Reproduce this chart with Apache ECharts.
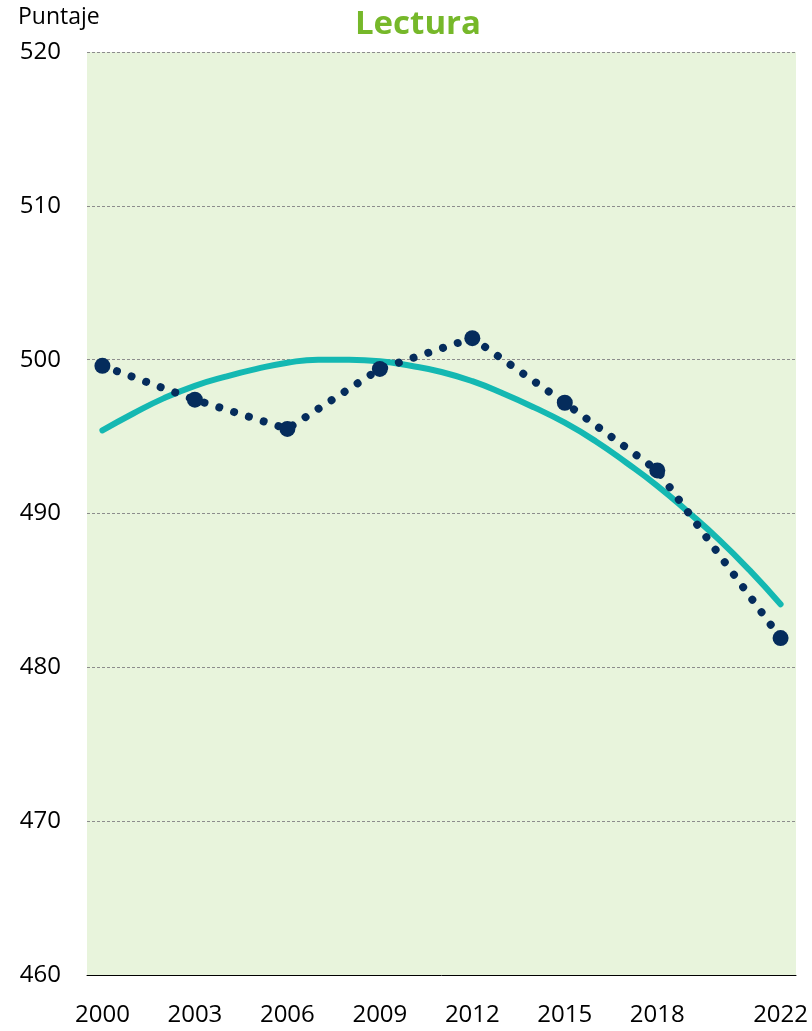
<!DOCTYPE html>
<html>
<head>
<meta charset="utf-8">
<script src="https://cdn.jsdelivr.net/npm/echarts@6/dist/echarts.min.js"></script>
<style>
html,body{margin:0;padding:0;background:#fff;}
#c{width:812px;height:1031px;}
</style>
</head>
<body>
<div id="c"></div>
<script>
var years = [2000,2001,2002,2003,2004,2005,2006,2007,2008,2009,2010,2011,2012,2013,2014,2015,2016,2017,2018,2019,2020,2021,2022];
var labelYears = [2000,2003,2006,2009,2012,2015,2018,2022];
var pointYears = [2000,2003,2006,2009,2012,2015,2018,2022];
var pointScores = [499.6,497.4,495.5,499.4,501.4,497.2,492.8,481.9];
var trendScores = [495.4,496.5,497.5,498.3,498.9,499.4,499.8,500.0,500.0,499.9,499.6,499.2,498.6,497.8,496.9,495.9,494.7,493.3,491.8,490.1,488.3,486.3,484.1];
var yTicks = [460,470,480,490,500,510,520];

var cats = years.map(String);
var pointData = years.map(function(y){
  var i = pointYears.indexOf(y);
  return i >= 0 ? pointScores[i] : null;
});

var chart = echarts.init(document.getElementById('c'));
var font = 'Open Sans, Noto Sans, sans-serif';
chart.setOption({
  animation: false,
  title: {
    text: 'Lectura',
    left: 413, top: 3, textAlign: 'center',
    textStyle: {color: '#76b82a', fontSize: 33, fontWeight: 'bold', fontFamily: font}
  },
  graphic: [{
    type: 'text', left: 18, top: 6,
    style: {text: 'Puntaje', fontSize: 23, fill: '#000', fontFamily: font}
  }],
  grid: {left: 87, right: 16, top: 52, bottom: 56, show: true, backgroundColor: '#e8f4dc', borderWidth: 0},
  xAxis: {
    type: 'category', data: cats, boundaryGap: true,
    axisLine: {show: true, lineStyle: {color: '#000', width: 1}},
    axisTick: {show: false},
    axisLabel: {
      interval: function(idx, val){ return labelYears.indexOf(+val) >= 0; },
      color: '#000', fontSize: 24, margin: 28, fontFamily: font
    },
    splitLine: {show: false}
  },
  yAxis: {
    type: 'value', min: yTicks[0], max: yTicks[yTicks.length-1], interval: 10,
    axisLine: {show: false}, axisTick: {show: false},
    axisLabel: {color: '#000', fontSize: 24, margin: 26, fontFamily: font},
    splitLine: {show: true, lineStyle: {color: '#8c8c8c', type: [3,2], width: 1}}
  },
  series: [
    {
      type: 'line', data: trendScores, smooth: true, symbol: 'none',
      lineStyle: {color: '#14b8b2', width: 6, cap: 'round'},
      z: 2
    },
    {
      type: 'line', data: pointData, connectNulls: true,
      symbol: 'circle', symbolSize: 16,
      itemStyle: {color: '#052c5c'},
      lineStyle: {color: '#052c5c', width: 8, type: [0.01, 15.5], cap: 'round'},
      z: 3
    }
  ]
});
</script>
</body>
</html>
